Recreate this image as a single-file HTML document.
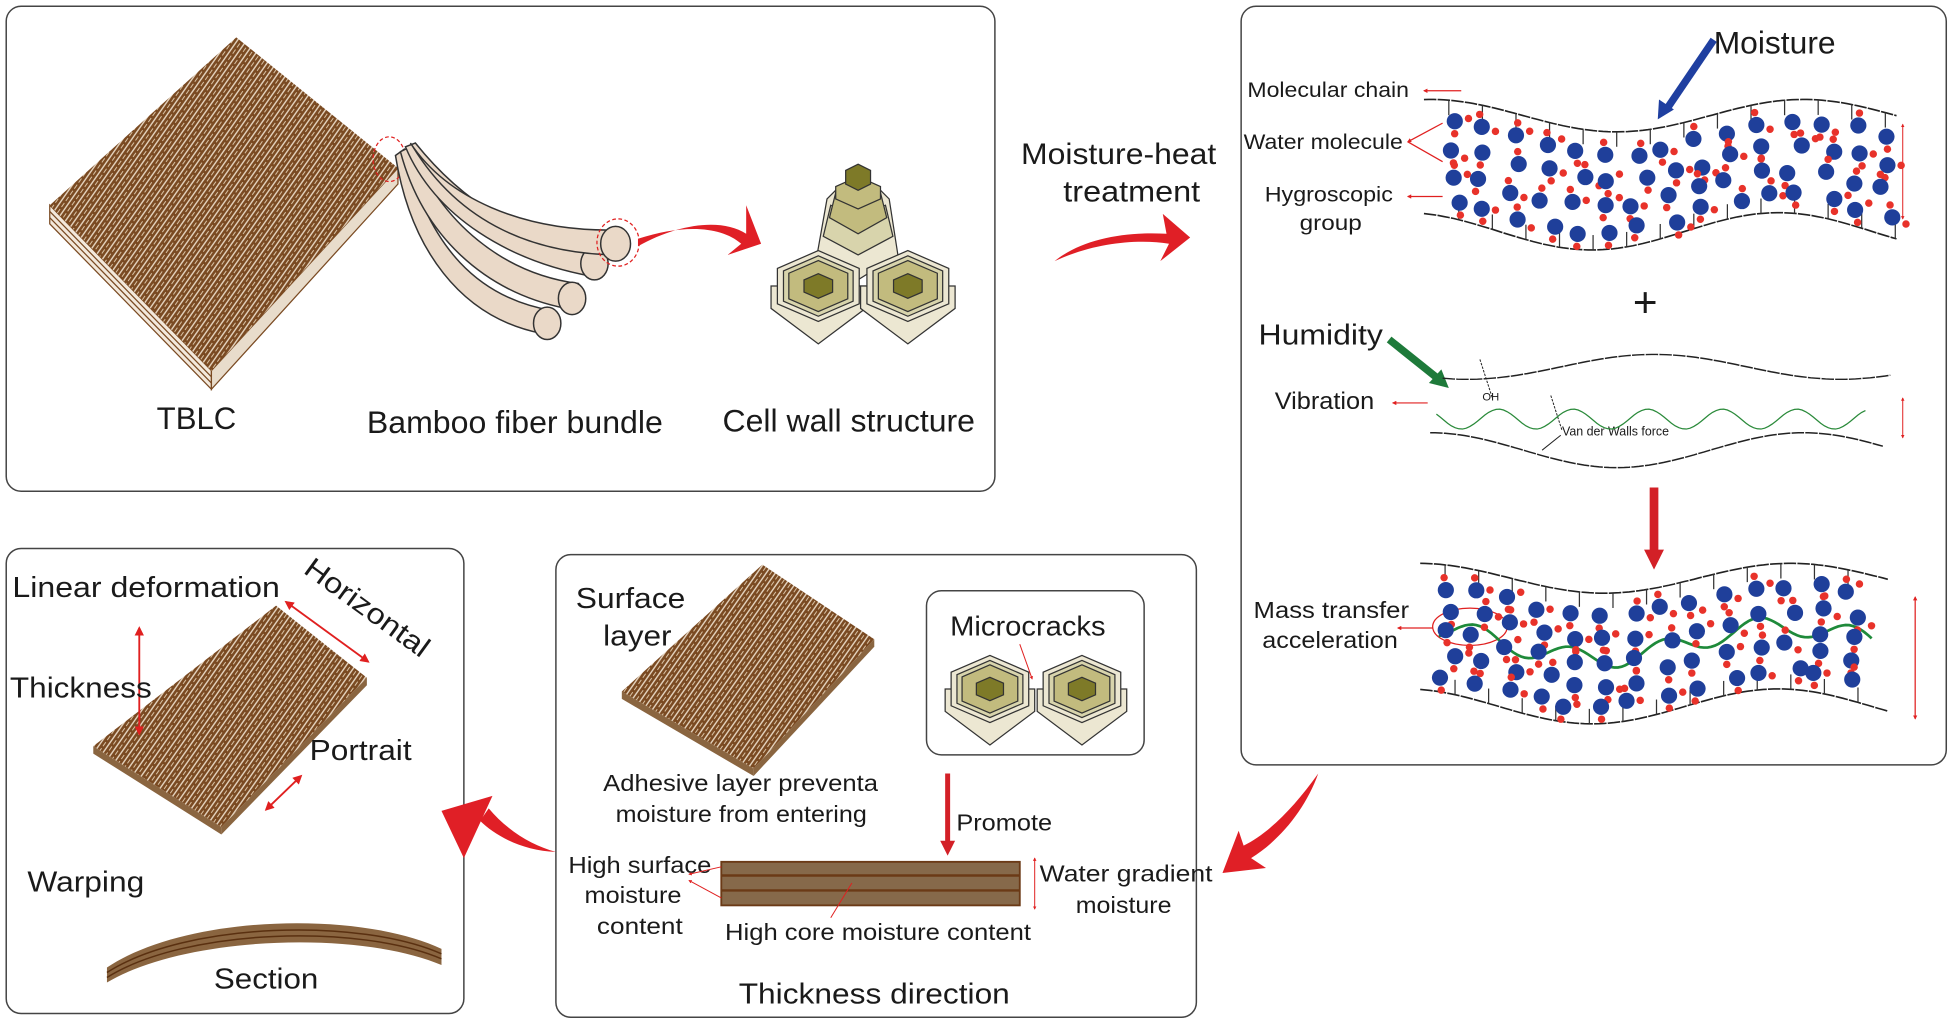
<!DOCTYPE html>
<html><head><meta charset="utf-8">
<style>
html,body{margin:0;padding:0;background:#fff;}
svg{display:block;}
text{font-family:"Liberation Sans",Arial,sans-serif;fill:#1a1a1a;}
</style></head>
<body>
<svg id="s" width="1950" height="1026" viewBox="0 0 1568 825" xmlns="http://www.w3.org/2000/svg">
<defs>
<pattern id="wood" width="6" height="6" patternUnits="userSpaceOnUse" patternTransform="rotate(-55)">
<rect width="6" height="6" fill="#7a4a22"/>
<line x1="0" y1="1" x2="6" y2="1" stroke="#e8d8c4" stroke-width="1.1"/>
<line x1="0" y1="4" x2="4" y2="4" stroke="#d9c2a4" stroke-width="0.8"/>
</pattern>
<marker id="ar" viewBox="0 0 10 10" refX="8" refY="5" markerWidth="5" markerHeight="5" orient="auto-start-reverse"><path d="M0,0L10,5L0,10z" fill="#e02020"/></marker>
<marker id="ars" viewBox="0 0 10 10" refX="8" refY="5" markerWidth="3.5" markerHeight="3.5" orient="auto-start-reverse"><path d="M0,0L10,5L0,10z" fill="#e02020"/></marker>
</defs>
<g fill="none" stroke="#444" stroke-width="1.2">
<rect x="5" y="5" width="795" height="390" rx="12"/>
<rect x="998" y="5" width="567" height="610" rx="12"/>
<rect x="5" y="441" width="368" height="374" rx="12"/>
<rect x="447" y="446" width="515" height="372" rx="12"/>
<rect x="745" y="475" width="175" height="132" rx="12"/>
</g>

<!-- TBLC board -->
<polygon points="40,165 40,180 170,313 170,298" fill="#f3e9dc" stroke="#7a4a22" stroke-width="1"/>
<line x1="40" y1="170" x2="170" y2="303" stroke="#7a4a22"/><line x1="40" y1="175" x2="170" y2="308" stroke="#7a4a22"/>
<polygon points="170,298 170,313 320,148 320,135" fill="#e8dccb" stroke="#7a4a22"/>
<polygon points="190,30 320,135 170,298 40,165" fill="url(#wood)"/>
<ellipse cx="313" cy="128" rx="13" ry="18" fill="none" stroke="#e02020" stroke-dasharray="3,2"/>

<!-- fibers -->
<g stroke="#333" stroke-width="1.2" fill="#ead9c8">
<path d="M318,125 C330,200 370,255 435,268 L445,250 C385,240 345,200 325,120Z"/>
<ellipse cx="440" cy="260" rx="11" ry="13"/>
<path d="M322,122 C340,190 390,235 455,248 L465,228 C405,220 355,180 330,118Z"/>
<ellipse cx="460" cy="240" rx="11" ry="13"/>
<path d="M326,118 C350,175 410,210 475,222 L485,200 C420,195 370,160 334,115Z"/>
<ellipse cx="478" cy="212" rx="11" ry="13"/>
<path d="M330,115 C360,160 420,185 490,185 L500,205 C430,205 370,180 332,118Z"/>
<ellipse cx="495" cy="196" rx="12" ry="14"/>
</g>
<ellipse cx="497" cy="195" rx="17" ry="19" fill="none" stroke="#e02020" stroke-dasharray="3,2"/>
<path d="M513,192 C550,180 580,182 596,196 L585,205 L612,196 L600,165 L600,188 C580,175 545,180 513,198Z" fill="#e01f26"/>

<g id="cell" stroke="#333" stroke-width="1"></g>

<text x="126" y="345" font-size="25" textLength="64">TBLC</text>
<text x="295" y="348" font-size="25" textLength="238">Bamboo fiber bundle</text>
<text x="581" y="347" font-size="25" textLength="203">Cell wall structure</text>

<text x="821" y="132" font-size="24" textLength="157">Moisture-heat</text>
<text x="855" y="162" font-size="24" textLength="110">treatment</text>
<path d="M848,210 C880,195 915,192 940,196 L933,210 L957,191 L935,172 L938,188 C905,186 870,192 848,210Z" fill="#e01f26"/>

<!-- right panel labels -->
<text x="1378" y="43" font-size="25" textLength="98">Moisture</text>
<path d="M1378,32 L1340,88" stroke="#1f3fa0" stroke-width="6"/>
<polygon points="1333,96 1334,80 1346,88" fill="#1f3fa0"/>
<text x="1003" y="78" font-size="17" textLength="130">Molecular chain</text>
<line x1="1175" y1="73" x2="1145" y2="73" stroke="#e02020" marker-end="url(#ars)"/>
<text x="1000" y="120" font-size="17" textLength="128">Water molecule</text>
<line x1="1132" y1="114" x2="1160" y2="99" stroke="#e02020" marker-start="url(#ars)"/>
<line x1="1132" y1="114" x2="1160" y2="130" stroke="#e02020"/>
<text x="1017" y="162" font-size="17" textLength="103">Hygroscopic</text>
<text x="1045" y="185" font-size="17" textLength="50">group</text>
<line x1="1160" y1="158" x2="1132" y2="158" stroke="#e02020" marker-end="url(#ars)"/>
<text x="1313" y="255" font-size="34" fill="#222">+</text>
<text x="1012" y="277" font-size="23" textLength="100">Humidity</text>
<line x1="1117" y1="273" x2="1157" y2="305" stroke="#1e7a3a" stroke-width="6"/>
<polygon points="1165,312 1149,308 1159,297" fill="#1e7a3a"/>
<text x="1025" y="329" font-size="19" textLength="80">Vibration</text>
<line x1="1148" y1="324" x2="1120" y2="324" stroke="#e02020" marker-end="url(#ars)"/>
<text x="1192" y="322" font-size="9">OH</text>
<text x="1256" y="350" font-size="10">Van der Walls force</text>
<line x1="1190" y1="289" x2="1200" y2="320" stroke="#222" stroke-width="0.8" stroke-dasharray="2,1"/>
<line x1="1247" y1="318" x2="1256" y2="346" stroke="#222" stroke-width="0.8" stroke-dasharray="2,1"/>
<line x1="1255" y1="350" x2="1240" y2="362" stroke="#222" stroke-width="0.8"/>
<line x1="1330" y1="392" x2="1330" y2="445" stroke="#d32027" stroke-width="7"/>
<polygon points="1322,442 1338,442 1330,458" fill="#d32027"/>
<text x="1008" y="497" font-size="18.5" textLength="125">Mass transfer</text>
<text x="1015" y="521" font-size="18.5" textLength="109">acceleration</text>
<line x1="1152" y1="505" x2="1124" y2="505" stroke="#e02020" marker-end="url(#ars)"/>
<ellipse cx="1182" cy="504" rx="30" ry="15" fill="none" stroke="#e02020"/>
<line x1="1530" y1="100" x2="1530" y2="176" stroke="#e02020" marker-start="url(#ars)" marker-end="url(#ars)" stroke-width="0.8"/>
<line x1="1530" y1="320" x2="1530" y2="352" stroke="#e02020" marker-start="url(#ars)" marker-end="url(#ars)" stroke-width="0.8"/>
<line x1="1540" y1="480" x2="1540" y2="578" stroke="#e02020" marker-start="url(#ars)" marker-end="url(#ars)" stroke-width="1"/>
<g id="mol"></g>

<path d="M1060,622 C1040,650 1020,670 1000,680 L996,668 L983,702 L1018,698 L1006,690 C1030,675 1050,650 1060,622Z" fill="#e01f26"/>

<!-- bottom middle -->
<text x="463" y="489" font-size="23" textLength="88">Surface</text>
<text x="485" y="519" font-size="23" textLength="55">layer</text>
<polygon points="500,556 500,562 606,624 606,618" fill="#8a6540"/>
<polygon points="606,618 606,624 703,520 703,514" fill="#8a6540"/>
<polygon points="613,454 703,514 606,618 500,556" fill="url(#wood)"/>
<text x="764" y="511" font-size="22" textLength="125">Microcracks</text>
<line x1="820" y1="518" x2="830" y2="546" stroke="#e02020" marker-end="url(#ars)" stroke-width="0.8"/>
<g id="micro" stroke="#333" stroke-width="1"></g>
<text x="485" y="636" font-size="18.5" textLength="221">Adhesive layer preventa</text>
<text x="495" y="661" font-size="18.5" textLength="202">moisture from entering</text>
<line x1="762" y1="622" x2="762" y2="678" stroke="#d32027" stroke-width="4"/>
<polygon points="756,676 768,676 762,688" fill="#d32027"/>
<text x="769" y="668" font-size="18.5" textLength="77">Promote</text>
<rect x="580" y="693" width="240" height="35" fill="#86694a" stroke="#6b3a16" stroke-width="1.5"/>
<line x1="580" y1="704" x2="820" y2="704" stroke="#6b3a16" stroke-width="2"/>
<line x1="580" y1="716" x2="820" y2="716" stroke="#6b3a16" stroke-width="2"/>
<line x1="832" y1="690" x2="832" y2="731" stroke="#e02020" marker-start="url(#ars)" marker-end="url(#ars)" stroke-width="0.8"/>
<text x="836" y="709" font-size="18.5" textLength="139">Water  gradient</text>
<text x="865" y="734" font-size="18.5" textLength="77">moisture</text>
<text x="457" y="702" font-size="18.5" textLength="115">High surface</text>
<text x="470" y="726" font-size="18.5" textLength="78">moisture</text>
<text x="480" y="751" font-size="18.5" textLength="69">content</text>
<line x1="580" y1="697" x2="554" y2="703" stroke="#e02020" stroke-width="0.8" marker-end="url(#ars)"/>
<line x1="580" y1="722" x2="554" y2="708" stroke="#e02020" stroke-width="0.8" marker-end="url(#ars)"/>
<text x="583" y="756" font-size="18.5" textLength="246">High core moisture content</text>
<line x1="685" y1="710" x2="668" y2="738" stroke="#e02020" stroke-width="0.8"/>
<text x="594" y="807" font-size="23" textLength="218">Thickness direction</text>
<path d="M447,685 C420,684 398,672 386,660 L393,650 C408,668 428,680 447,685Z" fill="#e01f26"/>
<polygon points="355,652 396,640 373,690" fill="#e01f26"/>

<!-- bottom left -->
<text x="10" y="480" font-size="23" textLength="215">Linear deformation</text>
<text x="0" y="0" font-size="23" transform="translate(243,460) rotate(36)" textLength="118">Horizontal</text>
<polygon points="75,600 75,606 178,671 178,665" fill="#8a6540"/>
<polygon points="178,665 178,671 295,551 295,545" fill="#8a6540"/>
<polygon points="222,487 295,545 178,665 75,600" fill="url(#wood)"/>
<line x1="112" y1="505" x2="112" y2="590" stroke="#e02020" stroke-width="1.5" marker-start="url(#ar)" marker-end="url(#ar)"/>
<line x1="230" y1="484" x2="296" y2="532" stroke="#e02020" stroke-width="1.5" marker-start="url(#ar)" marker-end="url(#ar)"/>
<line x1="214" y1="651" x2="242" y2="624" stroke="#e02020" stroke-width="1.5" marker-start="url(#ar)" marker-end="url(#ar)"/>
<text x="8" y="561" font-size="23" textLength="114">Thickness</text>
<text x="249" y="611" font-size="23" textLength="82">Portrait</text>
<text x="22" y="717" font-size="23" textLength="94">Warping</text>
<path d="M86,778 C150,735 290,732 355,763 L355,776 C290,748 150,752 86,790Z" fill="#8a6540"/>
<path d="M86,782 C150,741 290,738 355,767" fill="none" stroke="#5a3010" stroke-width="1.2"/>
<path d="M86,786 C150,746 290,743 355,771" fill="none" stroke="#5a3010" stroke-width="1.2"/>
<text x="172" y="795" font-size="23" textLength="84">Section</text>
</svg>
<script>
var NS="http://www.w3.org/2000/svg";
document.querySelectorAll('text[textLength]').forEach(function(t){t.setAttribute('lengthAdjust','spacingAndGlyphs');});
function el(p,t,a){var e=document.createElementNS(NS,t);for(var k in a)e.setAttribute(k,a[k]);p.appendChild(e);return e;}
var mol=document.getElementById('mol');
var sd=12345;function rnd(){sd|=0;sd=sd+0x6D2B79F5|0;var t=Math.imul(sd^sd>>>15,1|sd);t=t+Math.imul(t^t>>>7,61|t)^t;return((t^t>>>14)>>>0)/4294967296;}
function wave(x,base,amp,ph){return base+amp*Math.cos(2*Math.PI*(x-ph)/300);}
function curve(f,x0,x1,attrs){var d="";for(var x=x0;x<=x1;x+=4){d+=(x==x0?"M":"L")+x+","+f(x).toFixed(1);}attrs.d=d;attrs.fill="none";return el(mol,'path',attrs);}
function band(top,bot,x0,x1,green){
 curve(top,x0,x1,{stroke:"#222","stroke-width":1.3,"stroke-dasharray":"10,1"});
 curve(bot,x0,x1,{stroke:"#222","stroke-width":1.3,"stroke-dasharray":"10,1"});
 for(var x=x0+20;x<x1-10;x+=27){el(mol,'line',{x1:x,y1:top(x),x2:x,y2:top(x)+12,stroke:"#333","stroke-width":1});
  el(mol,'line',{x1:x+8,y1:bot(x+8),x2:x+8,y2:bot(x+8)-12,stroke:"#333","stroke-width":1});}
 if(green){var d="";for(var x=x0+15;x<=x1-15;x+=3){d+=(x==x0+15?"M":"L")+x+","+((top(x)+bot(x))/2+8*Math.sin(x/12)).toFixed(1);}el(mol,'path',{d:d,fill:"none",stroke:"#1e8a3a","stroke-width":2.2});}
 for(var x=x0+20;x<x1-8;x+=25){var t=top(x)+18,b=bot(x)-14;var n=Math.round((b-t)/20);
  for(var j=0;j<=n;j++){var xx=x+(rnd()-0.5)*10+(j%2)*6;var y=t+j*(b-t)/n+(rnd()-0.5)*6;
  el(mol,'circle',{cx:xx.toFixed(1),cy:y.toFixed(1),r:6.5,fill:"#1f3f9a"});
  el(mol,'circle',{cx:(xx+(rnd()-0.5)*4).toFixed(1),cy:(y+(rnd()<0.5?-10:10)).toFixed(1),r:3,fill:"#e8322a"});
  if(rnd()<0.6)el(mol,'circle',{cx:(xx+11).toFixed(1),cy:(y+(rnd()-0.5)*14).toFixed(1),r:3,fill:"#e8322a"});}}
}
band(function(x){return wave(x,93,13,1300);},function(x){return wave(x,186,15,1280);},1145,1528,false);
band(function(x){return wave(x,465,12,1290);},function(x){return wave(x,568,14,1280);},1142,1520,true);
curve(function(x){return wave(x,295,10,1180);},1160,1520,{stroke:"#222","stroke-width":1.2,"stroke-dasharray":"10,1"});
curve(function(x){return wave(x,362,14,1300);},1150,1515,{stroke:"#222","stroke-width":1.2,"stroke-dasharray":"10,1"});
(function(){var d="";for(var x=1155;x<=1500;x+=3){d+=(x==1155?"M":"L")+x+","+(337+8*Math.cos(2*Math.PI*(x-1175)/60)).toFixed(1);}el(mol,'path',{d:d,fill:"none",stroke:"#2a8a3a","stroke-width":1});})();
function hex(g,cx,cy,rx,ry,fill){var p=[];for(var i=0;i<6;i++){var a=Math.PI/6+i*Math.PI/3;p.push((cx+rx*Math.cos(a)).toFixed(1)+","+(cy+ry*Math.sin(a)).toFixed(1));}el(g,'polygon',{points:p.join(" "),fill:fill});}
function cellhex(g,cx,cy,s){
 el(g,'polygon',{points:[cx-s,cy-8,cx-s,cy+10,cx,cy+s*0.75+10,cx+s,cy+10,cx+s,cy-8].join(","),fill:"#ece7d2"});
 hex(g,cx,cy-8,s,s*0.75,"#ece7d2");hex(g,cx,cy-8,s*0.85,s*0.64,"#d8d4ac");hex(g,cx,cy-8,s*0.72,s*0.54,"#c2bb7e");hex(g,cx,cy-8,s*0.35,s*0.26,"#7e7a28");}
var c=document.getElementById('cell');
el(c,'polygon',{points:"657,205 665,160 675,150 705,150 715,160 722,205 690,225",fill:"#ece7d2"});
el(c,'polygon',{points:"662,190 668,165 690,175 712,165 718,190 690,205",fill:"#d8d4ac"});
el(c,'polygon',{points:"667,175 672,155 690,162 708,155 713,175 690,188",fill:"#c2bb7e"});
el(c,'polygon',{points:"672,160 690,168 708,160 708,150 690,142 672,150",fill:"#c2bb7e"});
el(c,'polygon',{points:"680,148 690,153 700,148 700,137 690,132 680,137",fill:"#7e7a28"});
cellhex(c,658,238,38);cellhex(c,730,238,38);
var m=document.getElementById('micro');cellhex(m,796,562,36);cellhex(m,870,562,36);
</script>
</body></html>
